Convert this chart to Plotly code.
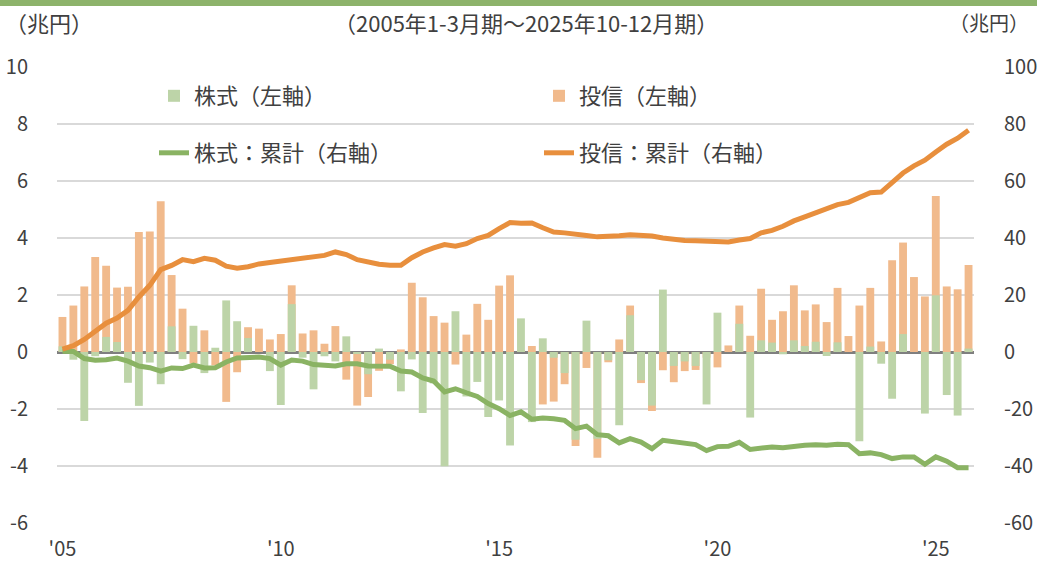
import plotly.graph_objects as go

# ---- data (trillion yen), quarterly 2005Q1 .. 2025Q4 ----
years = list(range(2005, 2026))
quarters = [f"{y}Q{q}" for y in years for q in (1, 2, 3, 4)]

stock_flow = [
    0.20, -0.27, -2.42, -0.15, 0.53, 0.35, -1.08, -1.89, -0.37, -1.13,
    0.90, -0.25, 0.92, -0.74, 0.15, 1.81, 1.08, 0.49, 0.00, -0.67,
    -1.86, 1.68, -0.20, -1.31, -0.15, -0.33, 0.55, -0.05, -0.78, 0.12,
    -0.27, -1.38, -0.26, -2.14, -1.10, -4.01, 1.43, -1.56, -1.05, -2.28,
    -1.70, -3.28, 1.18, -2.46, 0.48, -0.20, -0.74, -3.08, 1.10, -3.04,
    -0.29, -2.57, 1.29, -0.99, -1.88, 2.19, -0.49, -0.33, -0.49, -1.84,
    1.38, 0.00, 0.99, -2.30, 0.41, 0.33, -0.08, 0.41, 0.21, 0.36,
    -0.14, 0.34, 0.00, -3.13, 0.19, -0.41, -1.64, 0.63, 0.00, -2.16,
    1.99, -1.51, -2.23, 0.12,
]

trust_flow = [
    1.23, 1.63, 2.30, 3.33, 3.03, 2.26, 2.29, 4.21, 4.23, 5.29,
    2.70, 1.52, -0.40, 0.76, -0.47, -1.75, -0.71, 0.87, 0.82, 0.44,
    0.63, 2.34, 0.65, 0.76, 0.29, 0.91, -0.97, -1.88, -1.58, -0.66,
    -0.43, 0.09, 2.43, 1.92, 1.26, 1.03, -0.44, 0.61, 1.69, 1.13,
    2.33, 2.69, 0.05, 0.21, -1.84, -1.74, -1.13, -3.30, -0.56, -3.71,
    -0.36, 0.44, 1.63, -1.09, -2.07, -0.64, -1.06, -0.67, -0.63, -0.20,
    -0.54, 0.23, 1.63, 0.57, 2.22, 1.13, 1.43, 2.34, 1.46, 1.67,
    1.05, 2.25, 0.56, 1.63, 2.25, 0.37, 3.22, 3.84, 2.63, 1.95,
    5.47, 2.30, 2.20, 3.05,
]

stock_cum = [
    0.3, 0.2, -2.3, -2.9, -2.7, -2.1, -3.2, -4.9, -5.5, -6.7,
    -5.6, -5.8, -4.6, -5.6, -5.5, -3.5, -2.1, -1.8, -1.8, -2.3,
    -4.6, -2.8, -3.2, -4.4, -4.6, -4.9, -4.1, -4.1, -4.9, -5.0,
    -5.0, -6.7, -7.0, -9.1, -10.2, -14.0, -12.9, -14.3, -15.6, -18.1,
    -19.9, -22.3, -21.0, -23.6, -23.2, -23.4, -24.0, -26.9, -26.0, -29.0,
    -29.4, -31.9, -30.4, -31.6, -33.9, -31.0, -31.6, -32.0, -32.5, -34.6,
    -33.2, -33.1, -31.7, -34.2, -33.6, -33.3, -33.6, -33.0, -32.7, -32.5,
    -32.7, -32.4, -32.5, -35.7, -35.4, -36.0, -37.4, -36.8, -36.8, -39.4,
    -36.8, -38.3, -40.6, -40.6,
]

trust_cum = [
    1.0, 2.2, 4.4, 7.3, 10.1, 11.9, 14.6, 19.3, 23.4, 28.9,
    30.4, 32.4, 31.7, 32.9, 32.2, 30.1, 29.4, 29.9, 30.9, 31.4,
    31.9, 32.4, 32.7, 33.5, 33.9, 35.1, 34.2, 32.4, 31.5, 30.8,
    30.4, 30.4, 33.1, 35.1, 36.5, 37.7, 37.1, 38.0, 39.8, 40.9,
    43.3, 45.4, 45.2, 45.3, 43.6, 42.1, 41.8, 41.5, 40.9, 40.4,
    40.4, 40.8, 41.1, 41.1, 40.7, 40.0, 39.4, 39.1, 39.0, 38.8,
    38.4, 38.6, 39.3, 39.8, 41.8, 42.7, 44.1, 46.0, 47.4, 48.8,
    49.9, 51.7, 52.5, 54.1, 55.9, 56.1, 59.6, 62.8, 65.3, 67.3,
    70.2, 72.9, 75.0, 77.8,
]

tick_quarters = ["2005Q1", "2010Q1", "2015Q1", "2020Q1", "2025Q1"]
tick_labels = ["'05", "'10", "'15", "'20", "'25"]
left_ticks = [-6, -4, -2, 0, 2, 4, 6, 8, 10]
right_ticks = [-60, -40, -20, 0, 20, 40, 60, 80, 100]

# ---- styling ----
FONT = "Noto Sans CJK JP"
TXT = "#404040"
FS = 20      # tick labels
FSJ = 22     # Japanese texts
C_STOCK_BAR = "#BDD4A8"
C_TRUST_BAR = "#F1BA8C"
C_STOCK_LINE = "#8AB363"
C_TRUST_LINE = "#E88F3D"

W, H = 1037, 562
ML, MR, MT, MB = 57, 63, 67, 39
PW, PH = W - ML - MR, H - MT - MB


def px_x(p):
    return (p - ML) / PW


def px_y(p):
    return (H - MB - p) / PH


fig = go.Figure()
fig.add_trace(go.Bar(x=quarters, y=trust_flow, name="投信（左軸）",
                     marker=dict(color=C_TRUST_BAR, line=dict(width=0)),
                     width=0.72, legend="legend", legendrank=2))
fig.add_trace(go.Bar(x=quarters, y=stock_flow, name="株式（左軸）",
                     marker=dict(color=C_STOCK_BAR, line=dict(width=0)),
                     width=0.72, legend="legend", legendrank=1))
fig.add_trace(go.Scatter(x=quarters, y=stock_cum, name="株式：累計（右軸）",
                         mode="lines", line=dict(color=C_STOCK_LINE, width=5),
                         yaxis="y2", legend="legend2", legendrank=1))
fig.add_trace(go.Scatter(x=quarters, y=trust_cum, name="投信：累計（右軸）",
                         mode="lines", line=dict(color=C_TRUST_LINE, width=5),
                         yaxis="y2", legend="legend2", legendrank=2))

legend_common = dict(orientation="h", xanchor="left", yanchor="middle",
                     x=px_x(154), entrywidth=340, entrywidthmode="pixels",
                     bgcolor="rgba(0,0,0,0)", font=dict(family=FONT, size=FSJ, color=TXT),
                     traceorder="normal", itemclick=False, itemdoubleclick=False)

tick_font = dict(family=FONT, size=FS, color=TXT)

fig.update_layout(
    width=W, height=H,
    margin=dict(l=ML, r=MR, t=MT, b=MB, pad=0, autoexpand=False),
    paper_bgcolor="white", plot_bgcolor="white",
    barmode="overlay",
    font=dict(family=FONT, size=FS, color=TXT),
    legend=dict(**legend_common, y=px_y(96)),
    legend2=dict(**legend_common, y=px_y(153)),
    xaxis=dict(type="category", categoryorder="array", categoryarray=quarters,
               range=[-0.5, len(quarters) - 0.5], automargin=False,
               tickvals=tick_quarters, ticktext=tick_labels,
               ticks="outside", ticklen=8, tickcolor="rgba(0,0,0,0)",
               showgrid=False, showline=False, zeroline=False, tickfont=tick_font),
    yaxis=dict(range=[-6, 10], tickvals=left_ticks,
               ticktext=[str(v) for v in left_ticks], automargin=False,
               ticks="outside", ticklen=24, tickcolor="rgba(0,0,0,0)",
               showgrid=True, gridcolor="#D9D9D9", gridwidth=2,
               zeroline=True, zerolinecolor="#7F7F7F", zerolinewidth=2.5,
               showline=False, tickfont=tick_font),
    yaxis2=dict(range=[-60, 100], tickvals=right_ticks,
                ticktext=[str(v) for v in right_ticks],
                overlaying="y", side="right", automargin=False,
                ticks="outside", ticklen=25, tickcolor="rgba(0,0,0,0)",
                showgrid=False, zeroline=False, showline=False, tickfont=tick_font),
    shapes=[dict(type="rect", xref="paper", yref="paper",
                 x0=px_x(0), x1=px_x(W), y0=px_y(6), y1=px_y(0),
                 fillcolor="#8DB36B", line=dict(width=0), layer="above")],
    annotations=[
        dict(text="（兆円）", xref="paper", yref="paper", x=px_x(49), y=px_y(22),
             xanchor="center", yanchor="middle", showarrow=False,
             font=dict(family=FONT, size=FSJ, color=TXT)),
        dict(text="（2005年1-3月期～2025年10-12月期）", xref="paper", yref="paper",
             x=px_x(526), y=px_y(22), xanchor="center", yanchor="middle",
             showarrow=False, font=dict(family=FONT, size=FSJ, color=TXT)),
        dict(text="（兆円）", xref="paper", yref="paper", x=px_x(1031), y=px_y(22),
             xanchor="right", yanchor="middle", showarrow=False,
             font=dict(family=FONT, size=20, color=TXT)),
    ],
)

fig.write_html("out.html", config={"displayModeBar": False},
               post_script="document.body.style.margin='0px';document.body.style.overflow='hidden';")
